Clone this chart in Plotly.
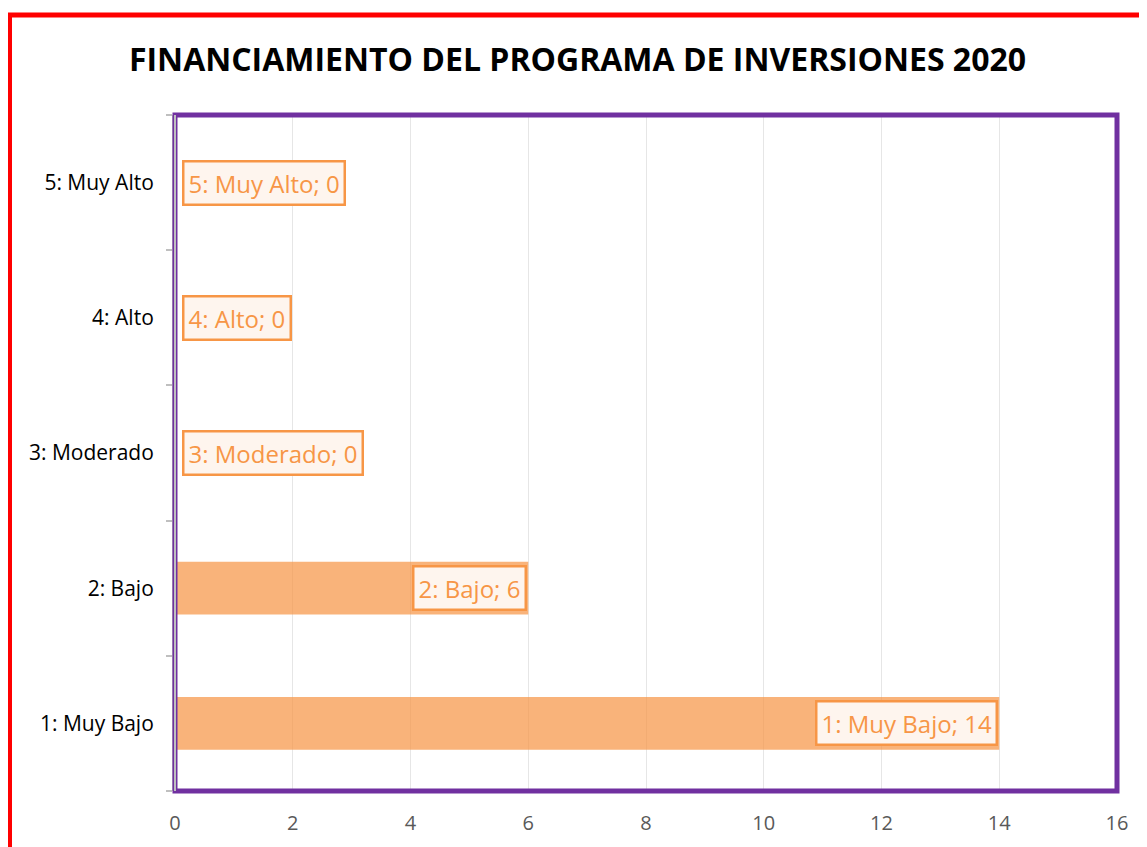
import plotly.graph_objects as go

categories = ["1: Muy Bajo", "2: Bajo", "3: Moderado", "4: Alto", "5: Muy Alto"]
values = [14, 6, 0, 0, 0]
x_ticks = [0, 2, 4, 6, 8, 10, 12, 14, 16]
title = "FINANCIAMIENTO DEL PROGRAMA DE INVERSIONES 2020"

ORANGE = "#F79646"
PURPLE = "#7030A0"
FONT = "Open Sans, Liberation Sans, sans-serif"

W, H = 1139, 839
L, T, PW, PH = 167, 107, 942, 676

fig = go.Figure()
fig.add_trace(go.Bar(
    y=categories, x=values, orientation="h",
    marker=dict(color="rgba(247,150,70,0.72)", line=dict(width=0)),
    hoverinfo="skip",
))

for c, v in zip(categories, values):
    common = dict(xref="x", yref="y", y=c, text=f"{c}; {v}", showarrow=False,
                  font=dict(family=FONT, size=24, color=ORANGE),
                  bgcolor="#FEF5EE", bordercolor=ORANGE, borderwidth=2.5, borderpad=4)
    if v > 0:
        fig.add_annotation(x=v, xanchor="right", xshift=-1, **common)
    else:
        fig.add_annotation(x=0, xanchor="left", xshift=7, **common)

fig.update_layout(
    width=W, height=H,
    paper_bgcolor="white", plot_bgcolor="white",
    margin=dict(l=L, r=W - L - PW, t=T, b=H - T - PH),
    showlegend=False,
    bargap=0.61,
    title=dict(text=f"<b>{title}</b>", x=0.5, xanchor="center", y=1 - 52 / H, yanchor="middle",
               font=dict(family=FONT, size=32, color="black")),
    xaxis=dict(range=[0, 16], tickvals=x_ticks, showgrid=True, gridcolor="#E6E6E6", gridwidth=1,
               zeroline=False, showline=False, ticks="", ticklabelstandoff=18,
               tickfont=dict(family=FONT, size=20, color="#595959")),
    yaxis=dict(type="category", categoryorder="array", categoryarray=categories,
               tickson="boundaries", ticks="outside", ticklen=6, tickcolor="#BFBFBF", tickwidth=2,
               showline=True, linecolor="#BFBFBF", linewidth=3, showgrid=False,
               ticklabelstandoff=14,
               tickfont=dict(family=FONT, size=21, color="black")),
    shapes=[
        dict(type="rect", xref="paper", yref="paper", x0=0, x1=1, y0=0, y1=1,
             line=dict(color=PURPLE, width=5), fillcolor="rgba(0,0,0,0)", layer="above"),
        dict(type="line", xref="paper", yref="paper", x0=0, x1=0, y0=0, y1=1,
             line=dict(color="#BFBFBF", width=2), layer="above"),
        dict(type="rect", xref="paper", yref="paper",
             x0=-(L - 1.5) / PW, x1=(PW + 80) / PW, y0=-150 / PH, y1=(PH + T - 7) / PH,
             line=dict(color="#FF0000", width=5), fillcolor="rgba(0,0,0,0)", layer="above"),
    ],
)

fig.write_html("out.html")
